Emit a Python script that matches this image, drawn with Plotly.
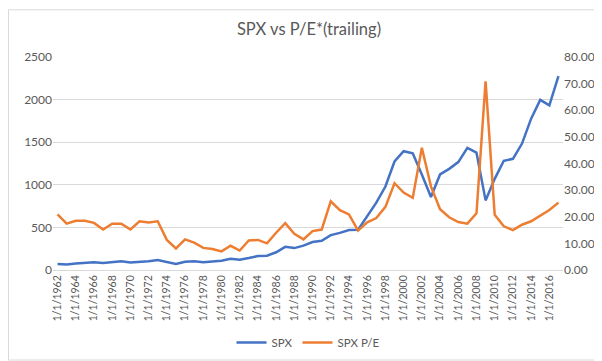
import plotly.graph_objects as go

years = list(range(1962, 2018))
categories = [f"1/1/{y}" for y in years]

spx = [70, 66, 76, 85, 92, 82, 96, 102, 88, 93, 103, 116, 96, 72, 96, 104, 90, 97, 108, 133, 120, 140, 164, 168, 208, 272, 257, 286, 329, 343, 409, 436, 470, 472, 636, 790, 980, 1274, 1394, 1370, 1122, 856, 1122, 1187, 1267, 1434, 1377, 817, 1070, 1282, 1305, 1484, 1776, 1997, 1932, 2275]

pe = [20.9, 17.4, 18.5, 18.5, 17.7, 15.2, 17.4, 17.4, 15.2, 18.3, 17.8, 18.3, 11.3, 8.1, 11.5, 10.3, 8.3, 7.9, 7.0, 9.1, 7.3, 11.1, 11.3, 10.0, 14.0, 17.6, 13.6, 11.5, 14.6, 15.2, 25.8, 22.5, 20.9, 14.8, 17.9, 19.5, 23.7, 32.6, 29.1, 27.1, 45.9, 31.4, 22.8, 19.8, 18.0, 17.4, 21.3, 70.9, 20.7, 16.4, 15.0, 17.0, 18.3, 20.3, 22.5, 25.3]

tick_labels = categories[::2]

fig = go.Figure()
fig.add_trace(go.Scatter(x=categories, y=spx, name="SPX", mode="lines",
                         line=dict(color="#4472C4", width=2.5)))
fig.add_trace(go.Scatter(x=categories, y=pe, name="SPX P/E", mode="lines",
                         line=dict(color="#ED7D31", width=2.5), yaxis="y2"))

font_col = "#595959"
fig.update_layout(
    width=602, height=361,
    margin=dict(l=45, r=47, t=49, b=93),
    paper_bgcolor="white", plot_bgcolor="white",
    font=dict(family="Lato, Liberation Sans, Arial, sans-serif", size=11, color=font_col),
    title=dict(text="SPX vs P/E*(trailing)", x=0.5, xanchor="center", y=0.94, yanchor="middle",
               font=dict(size=16.5, color=font_col)),
    xaxis=dict(type="category", range=[-0.5, 55.5], tickmode="array", tickvals=tick_labels,
               ticktext=tick_labels, tickangle=-90, showgrid=False, showline=True,
               linecolor="#d9d9d9", ticks="", tickfont=dict(size=10.5, color=font_col)),
    yaxis=dict(range=[0, 2500], dtick=500, showgrid=True, gridcolor="#d9d9d9", zeroline=False,
               showline=False, ticks="", tickfont=dict(size=12, color=font_col)),
    yaxis2=dict(range=[0, 80], dtick=10, overlaying="y", side="right", tickformat=".2f",
                showgrid=False, zeroline=False, ticks="", tickfont=dict(size=12, color=font_col)),
    legend=dict(orientation="h", x=0.5, xanchor="center", y=-0.34, yanchor="middle",
                font=dict(size=11.5, color=font_col)),
    showlegend=True,
)

fig.add_shape(type="rect", xref="paper", yref="paper",
              x0=-45/510 + 0.001, x1=1 + 47/510 - 0.001, y0=-93/219 + 0.002, y1=1 + 49/219 - 0.002,
              line=dict(color="#d9d9d9", width=1), layer="below")

fig.write_html("out.html")
